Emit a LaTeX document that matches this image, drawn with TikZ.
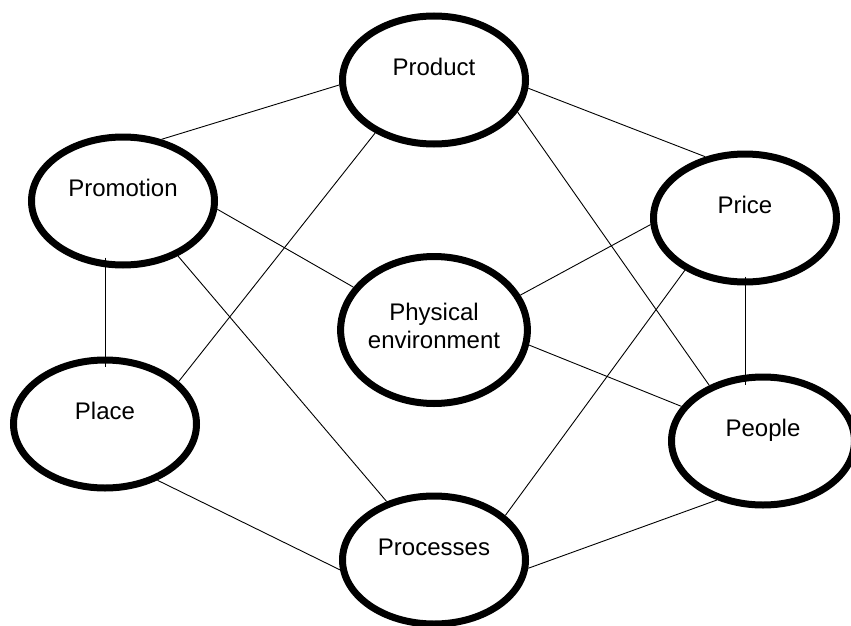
\documentclass[tikz,border=0pt]{standalone}
\usepackage{fontspec}
\setmainfont{Liberation Sans}
\usetikzlibrary{shapes.geometric}
\newcommand{\liftup}[1]{\raisebox{4.4pt}[0pt][0pt]{#1}}
\begin{document}
\begin{tikzpicture}[x=1pt,y=-1pt,
  oval/.style={ellipse, draw, line width=7pt, minimum width=183pt, minimum height=128pt, inner sep=0pt, font=\fontsize{24}{28}\selectfont},
  link/.style={line width=0.9pt}]
\useasboundingbox (0,0) rectangle (851,626);
\node[oval] (prod) at (434,80) {\liftup{Product}};
\node[oval] (promo) at (123,201) {\liftup{Promotion}};
\node[oval] (price) at (745,218) {\liftup{Price}};
\node[oval, minimum height=147pt] (phys) at (434,330) {\raisebox{-18pt}[0pt][0pt]{\begin{tabular}[b]{@{}c@{}}Physical\\environment\end{tabular}}};
\node[oval] (place) at (105,424) {\liftup{Place}};
\node[oval] (people) at (763,441) {\liftup{People}};
\node[oval] (proc) at (434,560) {\liftup{Processes}};
\draw[link] (prod.183.6) -- (promo.58.2);
\draw[link] (prod.355.8) -- (price.123.1);
\draw[link] (prod.222.4) -- (place.30.7);
\draw[link] (prod.339.1) -- (people.134.5);
\draw[link] (promo.355.7) -- (phys.152);
\draw[link, shorten <=-11pt, shorten >=-10pt] (place.north |- promo.south) -- (place.north);
\draw[link] (promo.315) -- (proc.129.8);
\draw[link] (price.184.1) -- (phys.22.4);
\draw[link] (price.221.5) -- (proc.32.4);
\draw[link, shorten <=-9pt, shorten >=-11pt] (price.south) -- (price.south |- people.north);
\draw[link] (phys.351) -- (people.157.5);
\draw[link] (place.313.5) -- (proc.186.6);
\draw[link] (people.232.4) -- (proc.355.2);
\end{tikzpicture}
\end{document}
